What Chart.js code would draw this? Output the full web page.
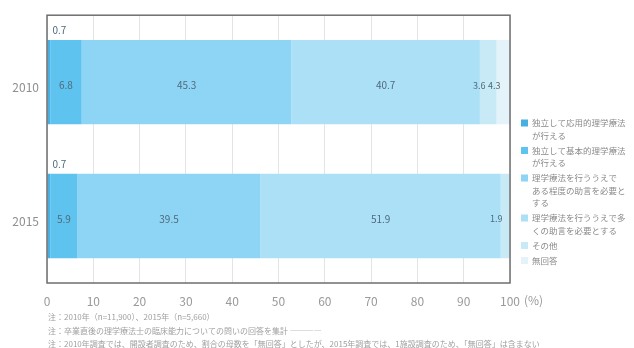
<!DOCTYPE html>
<html lang="ja">
<head>
<meta charset="utf-8">
<script src="https://cdn.jsdelivr.net/npm/chart.js@4/dist/chart.umd.min.js"></script>
<style>
  html, body { margin: 0; padding: 0; background: #fff; }
  #wrap { position: relative; width: 634px; height: 348px; }
</style>
</head>
<body>
<div id="wrap"><canvas id="chart" width="634" height="348"></canvas></div>
<script>
const years = ['2010', '2015'];

const advanced   = [0.7, 0.7];
const basic      = [6.8, 5.9];
const someAdvice = [45.3, 39.5];
const muchAdvice = [40.7, 51.9];
const other      = [3.6, 1.9];
const noAnswer   = [4.3, 0];

const seriesLabels = [
  ['独立して応用的理学療法', 'が行える'],
  ['独立して基本的理学療法', 'が行える'],
  ['理学療法を行ううえで', 'ある程度の助言を必要と', 'する'],
  ['理学療法を行ううえで多', 'くの助言を必要とする'],
  ['その他'],
  ['無回答']
];
const seriesColors = ['#47b0e0', '#5fc3ef', '#8ed5f5', '#ace0f7', '#c8e9f6', '#e3f3f9'];

const xTicks = [0, 10, 20, 30, 40, 50, 60, 70, 80, 90, 100];

const notes = [
  '注：2010年（n=11,900）、2015年（n=5,660）',
  '注：卒業直後の理学療法士の臨床能力についての問いの回答を集計 ――――',
  '注：2010年調査では、開設者調査のため、割合の母数を「無回答」としたが、2015年調査では、1施設調査のため、「無回答」は含まない'
];

const JP = '"Noto Sans CJK JP", "Noto Sans", sans-serif';

// box around the plot area
const frame = {
  id: 'frame',
  afterDatasetsDraw(chart) {
    const { ctx, chartArea: a } = chart;
    ctx.save();
    ctx.strokeStyle = '#6e6e6e';
    ctx.lineWidth = 1.5;
    ctx.strokeRect(a.left, a.top, a.right - a.left, a.bottom - a.top);
    ctx.restore();
  }
};

// numbers on the segments
const valueLabels = {
  id: 'valueLabels',
  afterDatasetsDraw(chart) {
    const { ctx, chartArea } = chart;
    ctx.save();
    ctx.fillStyle = '#4f6a7c';
    ctx.textBaseline = 'middle';
    chart.data.datasets.forEach((ds, i) => {
      chart.getDatasetMeta(i).data.forEach((bar, j) => {
        const v = ds.data[j];
        if (!v) return;
        const txt = v.toFixed(1);
        const right = Math.min(bar.x, chartArea.right);
        if (i === 0) {
          // too thin, put it above the bar
          ctx.font = '10px ' + JP;
          ctx.textAlign = 'left';
          ctx.fillText(txt, bar.base + 5, bar.y - bar.height / 2 - 10);
        } else if (v < 5) {
          ctx.font = '9px ' + JP;
          ctx.textAlign = 'center';
          ctx.fillText(txt, (bar.base + right) / 2 - 9, bar.y + 3);
        } else {
          ctx.font = '10px ' + JP;
          ctx.textAlign = 'center';
          ctx.fillText(txt, (bar.base + right) / 2, bar.y + 3);
        }
      });
    });
    ctx.restore();
  }
};

// legend with wrapped lines on the right
const sideLegend = {
  id: 'sideLegend',
  afterDraw(chart) {
    const { ctx } = chart;
    ctx.save();
    ctx.font = '8.5px ' + JP;
    ctx.textBaseline = 'middle';
    ctx.textAlign = 'left';
    let y = 123;
    chart.data.datasets.forEach(ds => {
      ctx.fillStyle = ds.backgroundColor;
      ctx.fillRect(521, y - 3.5, 7, 7);
      ctx.fillStyle = '#8a8a8a';
      ds.label.forEach(line => {
        ctx.fillText(line, 532, y);
        y += 12.5;
      });
      y += 2.5;
    });
    ctx.restore();
  }
};

// unit after the last tick and the notes under the axis
const footer = {
  id: 'footer',
  afterDraw(chart) {
    const { ctx } = chart;
    const xs = chart.scales.x;
    ctx.save();
    ctx.fillStyle = '#9a9a9a';
    ctx.font = '12px ' + JP;
    ctx.textBaseline = 'middle';
    ctx.textAlign = 'left';
    ctx.fillText('(%)', xs.getPixelForValue(100) + 14, 300);
    ctx.font = '8px ' + JP;
    ctx.fillStyle = '#a0a0a0';
    notes.forEach((n, k) => ctx.fillText(n, 48, 317 + k * 13.5));
    ctx.restore();
  }
};

const seriesData = [advanced, basic, someAdvice, muchAdvice, other, noAnswer];

new Chart(document.getElementById('chart'), {
  type: 'bar',
  data: {
    labels: years,
    datasets: seriesData.map((d, i) => ({
      label: seriesLabels[i],
      data: d,
      backgroundColor: seriesColors[i],
      borderWidth: 0,
      barPercentage: 0.9,
      categoryPercentage: 0.7
    }))
  },
  options: {
    indexAxis: 'y',
    responsive: false,
    animation: false,
    layout: { padding: { top: 14, right: 124, bottom: 40, left: 0 } },
    plugins: {
      legend: { display: false },
      tooltip: { enabled: false }
    },
    scales: {
      x: {
        stacked: true,
        min: 0,
        max: 100,
        afterBuildTicks(scale) {
          scale.ticks = xTicks.map(v => ({ value: v }));
        },
        afterFit(scale) { scale.height = 25; },
        grid: { color: '#e4e4e4', lineWidth: 1, drawTicks: false },
        border: { display: false },
        ticks: {
          padding: 11,
          color: '#9a9a9a',
          font: { family: JP, size: 12 }
        }
      },
      y: {
        stacked: true,
        afterFit(scale) { scale.width = 47; },
        grid: { display: false, drawTicks: false },
        border: { display: false },
        ticks: {
          padding: 8,
          labelOffset: 5,
          color: '#8f8f8f',
          font: { family: JP, size: 12 }
        }
      }
    }
  },
  plugins: [frame, valueLabels, sideLegend, footer]
});
</script>
</body>
</html>
